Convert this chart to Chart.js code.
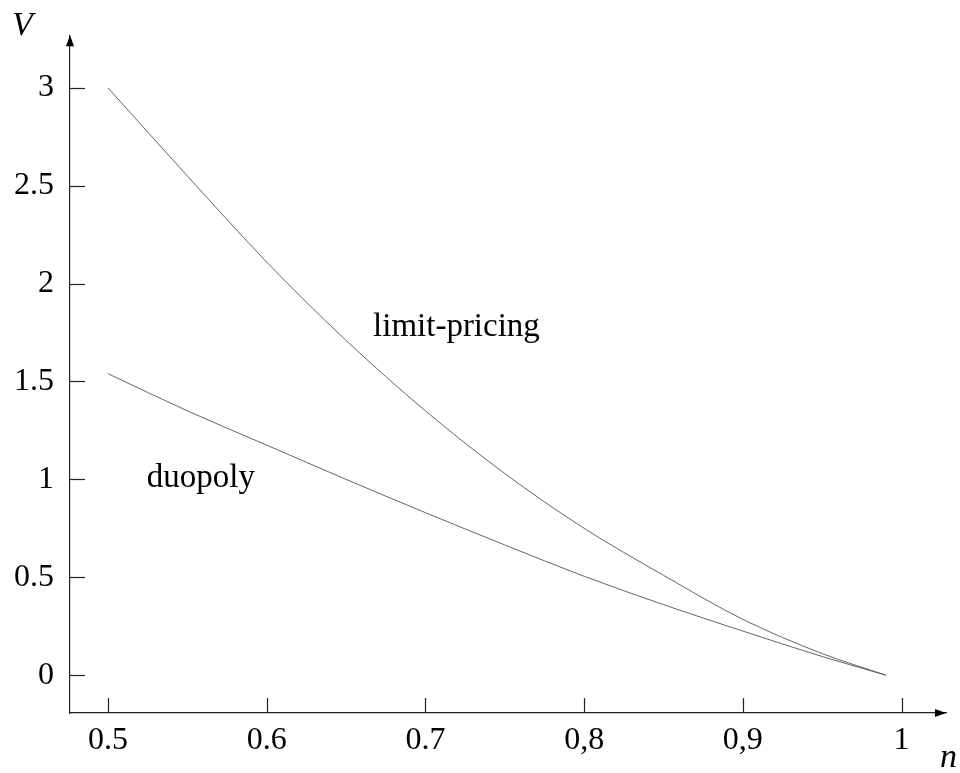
<!DOCTYPE html>
<html><head><meta charset="utf-8">
<script src="https://cdn.jsdelivr.net/npm/chart.js@4/dist/chart.umd.min.js"></script>
<style>html,body{margin:0;padding:0;background:#fff;} #wrap{width:960px;height:773px;position:relative;}</style>
</head><body><div id="wrap"><canvas id="c"></canvas></div>
<script>
// ---- data ----
const nValues      = [0.50, 0.55, 0.60, 0.65, 0.70, 0.75, 0.80, 0.85, 0.90, 0.95, 0.99];
const limitPricing = [3.00, 2.55, 2.11, 1.71, 1.35, 1.03, 0.75, 0.51, 0.285, 0.11, 0.00];
const duopoly      = [1.54, 1.35, 1.175, 1.00, 0.83, 0.665, 0.505, 0.36, 0.225, 0.095, 0.00];
const xTickValues  = [0.5, 0.6, 0.7, 0.8, 0.9, 1.0];
const xTickLabels  = ['0.5', '0.6', '0.7', '0,8', '0,9', '1'];
const yTickValues  = [0, 0.5, 1, 1.5, 2, 2.5, 3];
const yTickLabels  = ['0', '0.5', '1', '1.5', '2', '2.5', '3'];
const seriesNames  = ['limit-pricing', 'duopoly'];
const axisNames    = ['n', 'V'];

const SERIF = '"Liberation Serif", "DejaVu Serif", serif';
const toPts = ys => nValues.map((x, i) => ({x: x, y: ys[i]}));

const decor = {
  id: 'decor',
  afterDraw(chart) {
    const ctx = chart.ctx, xs = chart.scales.x, ys = chart.scales.y, a = chart.chartArea;
    ctx.save();
    ctx.strokeStyle = '#222'; ctx.fillStyle = '#000'; ctx.lineWidth = 1.2;
    // inward tick marks
    yTickValues.forEach(v => { const p = Math.round(ys.getPixelForValue(v)) + 0.5;
      ctx.beginPath(); ctx.moveTo(a.left, p); ctx.lineTo(a.left + 15, p); ctx.stroke(); });
    xTickValues.forEach(v => { const p = Math.round(xs.getPixelForValue(v)) + 0.5;
      ctx.beginPath(); ctx.moveTo(p, a.bottom); ctx.lineTo(p, a.bottom - 15); ctx.stroke(); });
    // arrowheads
    ctx.beginPath(); ctx.moveTo(a.left, a.top); ctx.lineTo(a.left - 4, a.top + 11); ctx.lineTo(a.left + 4, a.top + 11); ctx.closePath(); ctx.fill();
    ctx.beginPath(); ctx.moveTo(a.right, a.bottom); ctx.lineTo(a.right - 11, a.bottom - 4); ctx.lineTo(a.right - 11, a.bottom + 4); ctx.closePath(); ctx.fill();
    // curve labels
    ctx.font = '33px ' + SERIF; ctx.textAlign = 'left'; ctx.textBaseline = 'alphabetic';
    ctx.fillText(seriesNames[0], xs.getPixelForValue(0.667), ys.getPixelForValue(1.731));
    ctx.fillText(seriesNames[1], xs.getPixelForValue(0.5244), ys.getPixelForValue(0.962));
    // axis names
    ctx.font = 'italic 34px ' + SERIF;
    ctx.fillText(axisNames[1], a.left - 58, a.top);
    ctx.fillText(axisNames[0], a.right - 6, a.bottom + 54);
    ctx.restore();
  }
};

new Chart(document.getElementById('c'), {
  type: 'line',
  data: { datasets: [
    { label: seriesNames[0], data: toPts(limitPricing), borderColor: '#555', borderWidth: 0.9, pointRadius: 0, cubicInterpolationMode: 'monotone', fill: false },
    { label: seriesNames[1], data: toPts(duopoly), borderColor: '#555', borderWidth: 0.9, pointRadius: 0, cubicInterpolationMode: 'monotone', fill: false }
  ]},
  options: {
    responsive: true, maintainAspectRatio: false, animation: false,
    layout: { padding: { top: 33, right: 14, left: 0, bottom: 0 } },
    plugins: { legend: { display: false }, tooltip: { enabled: false } },
    scales: {
      x: { type: 'linear', min: 0.47606, max: 1.028,
        afterFit: s => { s.height = 60; },
        afterBuildTicks: s => { s.ticks = xTickValues.map(v => ({value: v})); },
        grid: { display: false, drawTicks: false },
        border: { display: true, color: '#222', width: 1.2 },
        ticks: { color: '#000', font: { family: SERIF, size: 32 }, padding: 8, maxRotation: 0, autoSkip: false,
          callback: (v, i) => xTickLabels[i] } },
      y: { type: 'linear', min: -0.1935, max: 3.269,
        afterFit: s => { s.width = 70; },
        afterBuildTicks: s => { s.ticks = yTickValues.map(v => ({value: v})); },
        grid: { display: false, drawTicks: false },
        border: { display: true, color: '#222', width: 1.2 },
        ticks: { color: '#000', font: { family: SERIF, size: 32 }, padding: 16, autoSkip: false,
          callback: (v, i) => yTickLabels[i] } }
    }
  },
  plugins: [decor]
});
</script></body></html>
